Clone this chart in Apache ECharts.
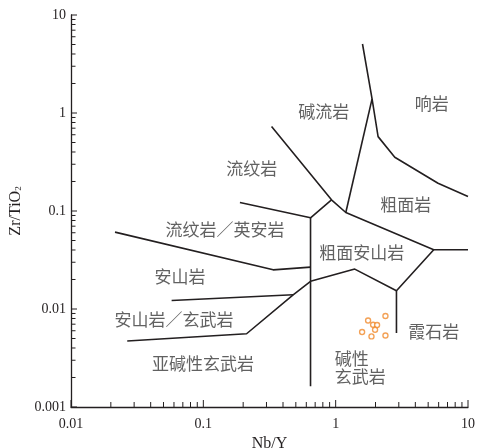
<!DOCTYPE html>
<html>
<head>
<meta charset="utf-8">
<script src="https://cdn.jsdelivr.net/npm/echarts@6/dist/echarts.min.js"></script>
<style>html,body{margin:0;padding:0;background:#fff}#c{width:477px;height:448px}</style>
</head>
<body>
<div id="c"></div>
<script>
// ---- tick values ----
var xMajorTicks = [0.01, 0.1, 1, 10];
var yMajorTicks = [0.001, 0.01, 0.1, 1, 10];
var minorFactors = [2, 3, 4, 5, 6, 7, 8, 9];

// ---- field boundaries [Nb/Y, Zr/TiO2] ----
var comenditeLine = [[1.595, 5.06], [1.884, 1.392], [2.092, 0.574], [2.797, 0.354], [5.937, 0.192], [10, 0.1404]];
var pantelleriteLeft = [[1.884, 1.392], [1.193, 0.0965]];
var rhyoliteLine = [[0.3278, 0.7265], [0.930, 0.130], [1.193, 0.0965], [5.508, 0.0402], [10, 0.0402]];
var rhyodaciteUpper = [[0.189, 0.122], [0.6457, 0.0852], [0.930, 0.130]];
var centralVertical = [[0.6457, 0.0852], [0.6457, 0.00163]];
var andesiteUpper = [[0.0215, 0.0609], [0.337, 0.0251], [0.6457, 0.02677]];
var andesiteLower = [[0.0576, 0.01222], [0.4771, 0.01397]];
var basaltLine = [[0.0266, 0.00471], [0.2122, 0.00559], [0.4771, 0.01397], [0.6457, 0.01918], [1.394, 0.02554], [2.880, 0.01535], [5.508, 0.0402]];
var nepheliniteLine = [[2.880, 0.01535], [2.880, 0.00569]];

// ---- samples ----
var sampleNbY = [2.378, 1.758, 1.918, 2.055, 1.985, 1.584, 1.865, 2.378];
var sampleZrTiO2 = [0.00847, 0.00764, 0.00691, 0.00686, 0.00614, 0.00582, 0.00525, 0.00537];

// ---- field names and anchors (data coords) ----
var fieldNames = ['碱流岩', '响岩', '流纹岩', '粗面岩', '流纹岩／英安岩', '安山岩', '安山岩／玄武岩', '亚碱性玄武岩', '粗面安山岩', '霞石岩', '碱性\n玄武岩'];
var fieldX = [0.8135, 5.32, 0.2327, 3.385, 0.1455, 0.0665, 0.05993, 0.09927, 1.575, 5.508, 0.985];
var fieldY = [1.026, 1.238, 0.2691, 0.1156, 0.0643, 0.02132, 0.00777, 0.002765, 0.03744, 0.00586, 0.00252];

var INK = '#231f20';
var boundaries = [comenditeLine, pantelleriteLeft, rhyoliteLine, rhyodaciteUpper, centralVertical, andesiteUpper, andesiteLower, basaltLine, nepheliniteLine];

var xTickData = [], yTickData = [];
xMajorTicks.forEach(function (t) { xTickData.push([t, 0.001, 1]); });
yMajorTicks.forEach(function (t) { yTickData.push([0.01, t, 1]); });
xMajorTicks.slice(0, -1).forEach(function (t) { minorFactors.forEach(function (f) { xTickData.push([t * f, 0.001, 0]); }); });
yMajorTicks.slice(0, -1).forEach(function (t) { minorFactors.forEach(function (f) { yTickData.push([0.01, t * f, 0]); }); });

function fmt(v) { return String(parseFloat(Number(v).toPrecision(6))); }

var series = [];
boundaries.forEach(function (b) {
  series.push({ type: 'line', data: b, symbol: 'none', silent: true, animation: false,
    lineStyle: { color: INK, width: 1.6 }, z: 2 });
});
series.push({
  type: 'custom', silent: true, animation: false, clip: false, z: 3,
  encode: { x: 0, y: 1 },
  data: xTickData,
  renderItem: function (params, api) {
    var p = api.coord([api.value(0), api.value(1)]);
    var len = api.value(2) ? 7 : 5;
    return { type: 'line', shape: { x1: p[0], y1: p[1], x2: p[0], y2: p[1] - len }, style: { stroke: INK, lineWidth: 1 } };
  }
});
series.push({
  type: 'custom', silent: true, animation: false, clip: false, z: 3,
  encode: { x: 0, y: 1 },
  data: yTickData,
  renderItem: function (params, api) {
    var p = api.coord([api.value(0), api.value(1)]);
    var len = api.value(2) ? 6 : 4.5;
    return { type: 'line', shape: { x1: p[0], y1: p[1], x2: p[0] + len, y2: p[1] }, style: { stroke: INK, lineWidth: 1 } };
  }
});
series.push({
  type: 'scatter', silent: true, animation: false, z: 4,
  data: fieldNames.map(function (n, i) { return { value: [fieldX[i], fieldY[i]], name: n }; }),
  symbol: 'circle', symbolSize: 1,
  itemStyle: { color: 'rgba(0,0,0,0)' },
  label: {
    show: true, position: 'inside', formatter: '{b}',
    fontFamily: 'Noto Sans CJK SC', fontSize: 17, color: '#3a3a3a', lineHeight: 18
  },
  labelLayout: { hideOverlap: false }
});
// left-align the two-line label
series[series.length - 1].data[10].label = { align: 'left' };
series.push({
  type: 'scatter', animation: false, z: 5,
  data: sampleNbY.map(function (x, i) { return [x, sampleZrTiO2[i]]; }),
  symbol: 'circle', symbolSize: 5,
  itemStyle: { color: '#ffffff', borderColor: '#f08a2c', borderWidth: 1.4 }
});

var chart = echarts.init(document.getElementById('c'), null, { renderer: 'canvas' });
chart.setOption({
  backgroundColor: '#ffffff',
  animation: false,
  grid: { left: 71, right: 9, top: 15, bottom: 41, containLabel: false, outerBoundsMode: 'none' },
  xAxis: {
    type: 'log', logBase: 10, min: 0.01, max: 10,
    name: 'Nb/Y', nameLocation: 'middle', nameGap: 20,
    nameTextStyle: { fontFamily: 'Liberation Serif', fontSize: 16, color: INK },
    axisLine: { show: true, lineStyle: { color: INK, width: 1.3 } },
    axisTick: { show: false }, minorTick: { show: false },
    splitLine: { show: false },
    axisLabel: { fontFamily: 'Liberation Serif', fontSize: 14, color: INK, margin: 10, formatter: fmt, showMinLabel: true, showMaxLabel: true }
  },
  yAxis: {
    type: 'log', logBase: 10, min: 0.001, max: 10,
    name: 'Zr/TiO{sub|2}', nameLocation: 'middle', nameGap: 36, nameRotate: 90,
    nameTextStyle: { fontFamily: 'Liberation Serif', fontSize: 16, color: INK,
      rich: { sub: { fontFamily: 'Liberation Serif', fontSize: 9, color: INK, verticalAlign: 'bottom', padding: [7, 0, 0, 0] } } },
    axisLine: { show: true, lineStyle: { color: INK, width: 1.3 } },
    axisTick: { show: false }, minorTick: { show: false },
    splitLine: { show: false },
    axisLabel: { fontFamily: 'Liberation Serif', fontSize: 14, color: INK, margin: 5, formatter: fmt, showMinLabel: true, showMaxLabel: true }
  },
  series: series
});
</script>
</body>
</html>
